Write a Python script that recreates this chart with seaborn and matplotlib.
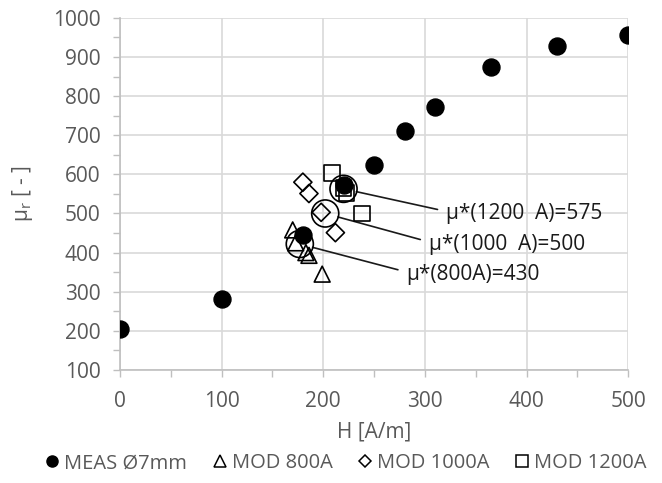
import matplotlib
matplotlib.use("Agg")
import matplotlib.pyplot as plt
from matplotlib.lines import Line2D
from matplotlib.ticker import MultipleLocator
import pandas as pd
import seaborn as sns

# measured curve
meas_h = [0, 100, 180, 220, 250, 280, 310, 365, 430, 500]
meas_mu = [205, 281, 445, 573, 624, 712, 771, 875, 927, 955]

# model results
mod800_h = [170, 173, 183, 186, 199]
mod800_mu = [458, 425, 400, 393, 345]
mod1000_h = [180, 186, 198, 212]
mod1000_mu = [580, 551, 503, 451]
mod1200_h = [209, 220, 223, 238]
mod1200_mu = [603, 565, 552, 500]

# mu* estimates (circled)
star_h = [177, 202, 220]
star_mu = [422, 500, 563]
star_labels = ["μ*(800A)=430", "μ*(1000  A)=500", "μ*(1200  A)=575"]
# where the labels sit
label_h = [282, 304, 321]
label_mu = [345, 422, 500]

legend_labels = ["MEAS Ø7mm", "MOD 800A", "MOD 1000A", "MOD 1200A"]

sns.set_theme(style="whitegrid")
plt.rcParams["font.family"] = ["Open Sans", "DejaVu Sans"]

grey_txt = "#595959"
grid_c = "#d9d9d9"
axis_c = "#bfbfbf"
fs = 15

fig = plt.figure(figsize=(6.62, 4.83), dpi=100)
ax = fig.add_axes([0.181, 0.234, 0.768, 0.729])

open_kw = dict(facecolor="none", edgecolor="black", linewidth=1.2, ax=ax, legend=False)

sns.scatterplot(x=mod800_h, y=mod800_mu, marker="^", s=130, zorder=3, **open_kw)
sns.scatterplot(x=mod1000_h, y=mod1000_mu, marker="D", s=85, zorder=3, **open_kw)
sns.scatterplot(x=mod1200_h, y=mod1200_mu, marker="s", s=130, zorder=4, **open_kw)
sns.scatterplot(x=meas_h, y=meas_mu, color="black", edgecolor="black", s=150,
                marker="o", ax=ax, legend=False, zorder=3.5)
sns.scatterplot(x=star_h, y=star_mu, marker="o", s=380, zorder=5, **open_kw)

for lab, hx, my, th, tm in zip(star_labels, star_h, star_mu, label_h, label_mu):
    ax.annotate(lab, xy=(hx, my), xytext=(th, tm), ha="left", va="center",
                fontsize=fs, color="#1a1a1a",
                arrowprops=dict(arrowstyle="-", color="#1a1a1a", lw=1.2,
                                relpos=(0, 0.6), shrinkA=4, shrinkB=9.5))

ax.set_xlim(0, 500)
ax.set_ylim(100, 1000)
ax.xaxis.set_major_locator(MultipleLocator(100))
ax.xaxis.set_minor_locator(MultipleLocator(50))
ax.yaxis.set_major_locator(MultipleLocator(100))
ax.yaxis.set_minor_locator(MultipleLocator(50))

ax.grid(True, which="major", color=grid_c, linewidth=1.2)
ax.grid(False, which="minor")
for side in ["top", "right"]:
    ax.spines[side].set_visible(False)
for side in ["left", "bottom"]:
    ax.spines[side].set_color(axis_c)
    ax.spines[side].set_linewidth(1.2)

ax.tick_params(which="both", direction="out", length=5, width=1.0, color=axis_c,
               left=True, bottom=True)
ax.tick_params(axis="y", which="major", labelsize=fs, labelcolor=grey_txt, pad=9)
ax.tick_params(axis="x", which="major", labelsize=fs, labelcolor=grey_txt, pad=10)

ax.set_xlabel("H [A/m]", fontsize=fs, color=grey_txt, labelpad=7)
ax.set_ylabel("μ$_\\mathregular{r}$ [ - ]", fontsize=fs, color=grey_txt, labelpad=13)

handles = [
    Line2D([], [], ls="none", marker="o", markersize=8, color="black"),
    Line2D([], [], ls="none", marker="^", markersize=9, markerfacecolor="none",
           markeredgecolor="black", markeredgewidth=1.1),
    Line2D([], [], ls="none", marker="D", markersize=6.5, markerfacecolor="none",
           markeredgecolor="black", markeredgewidth=1.1),
    Line2D([], [], ls="none", marker="s", markersize=8.5, markerfacecolor="none",
           markeredgecolor="black", markeredgewidth=1.1),
]
leg = fig.legend(handles, legend_labels, loc="center", bbox_to_anchor=(0.52, 0.041),
                 ncol=4, frameon=False, fontsize=14.5, handletextpad=0.1,
                 columnspacing=1.1, handlelength=1.0)
for t in leg.get_texts():
    t.set_color(grey_txt)

fig.savefig("out.png", dpi=100)
